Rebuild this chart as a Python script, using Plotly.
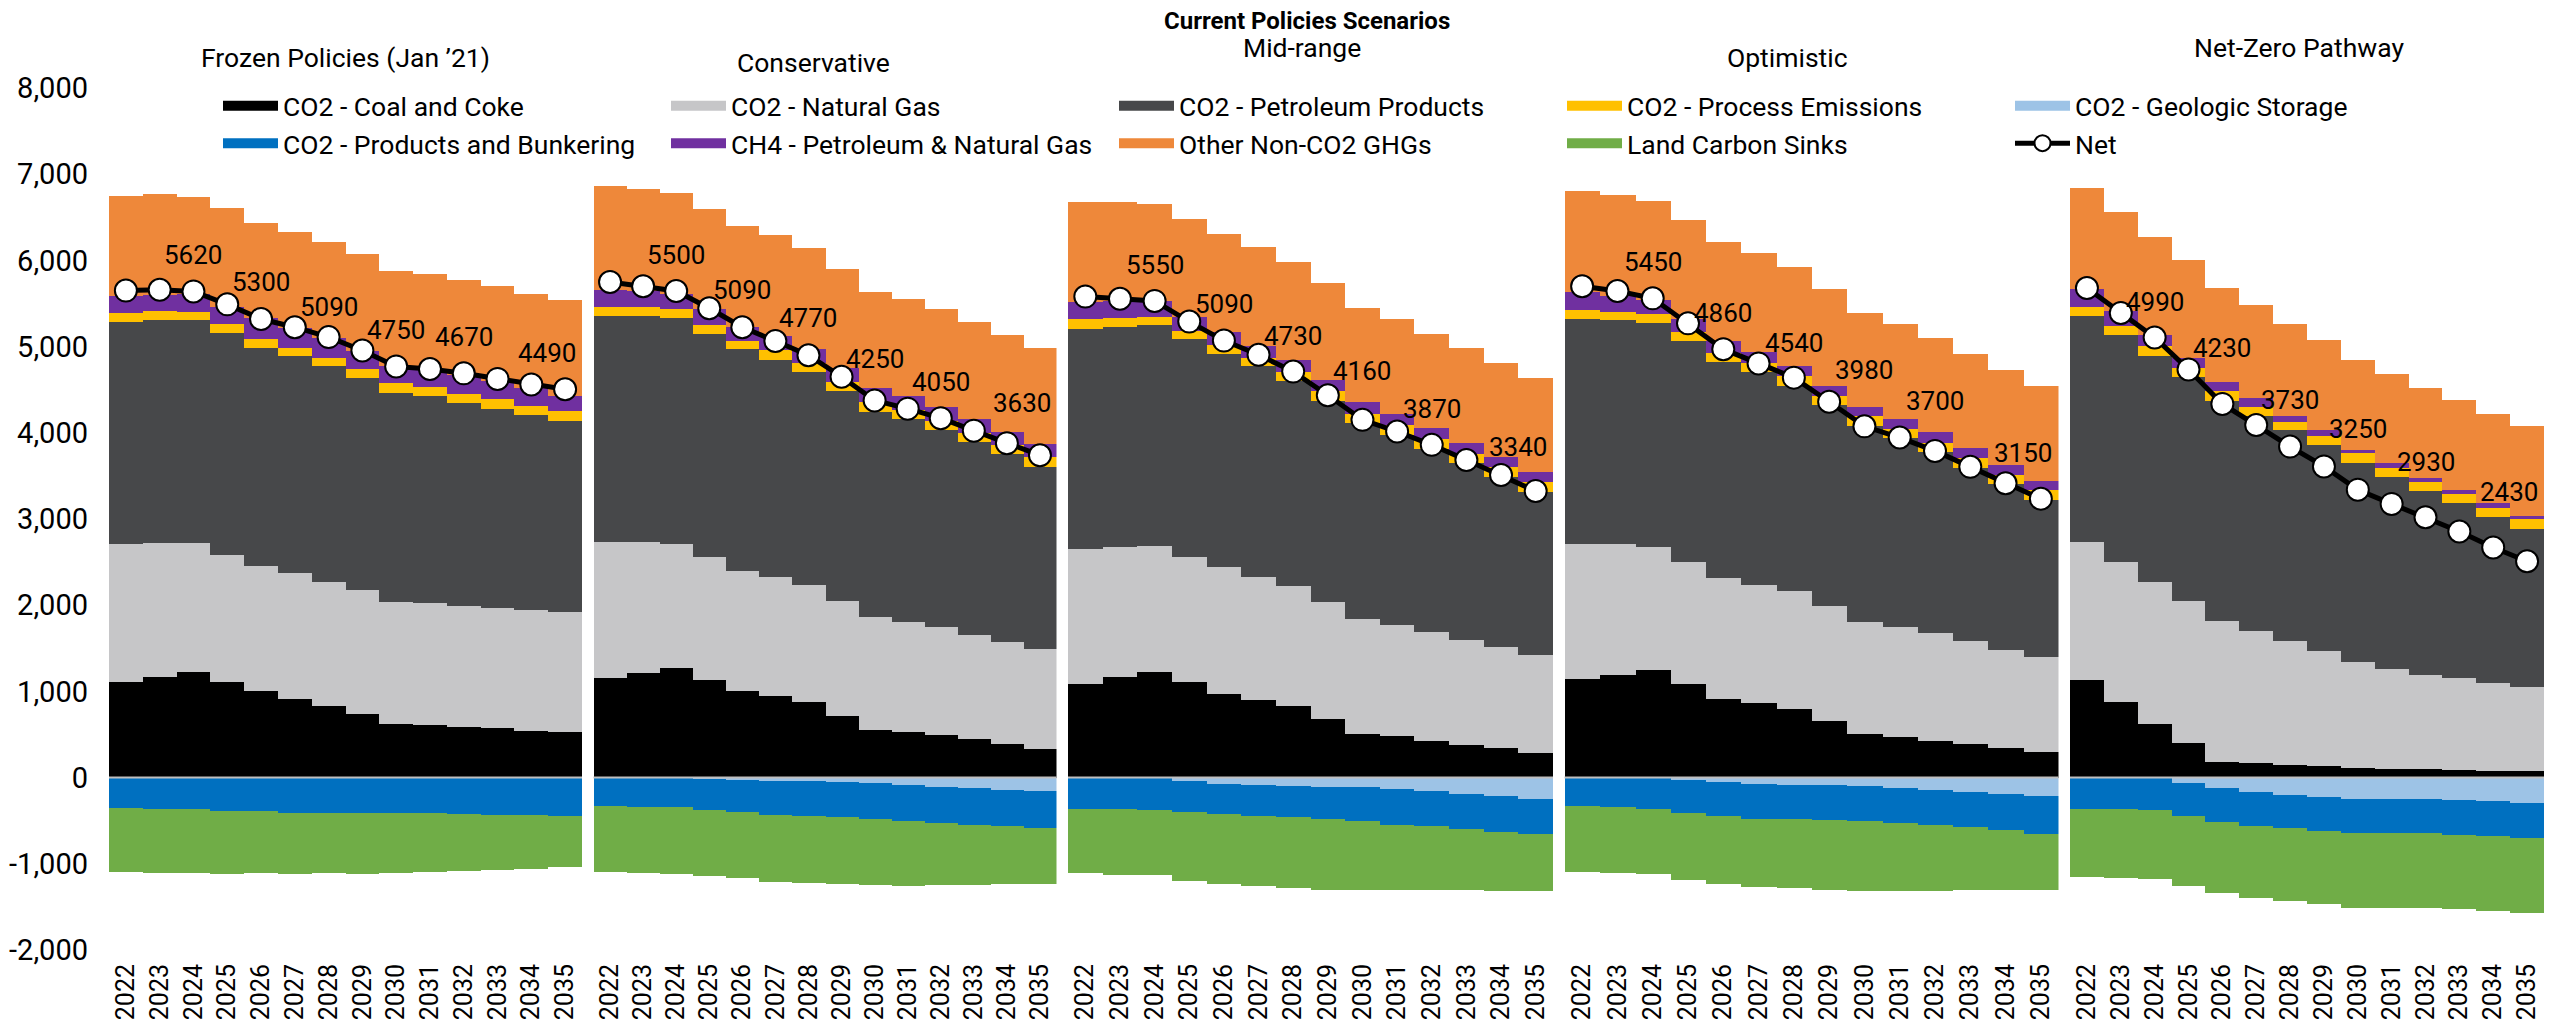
import plotly.graph_objects as go
from plotly.subplots import make_subplots

# Emissions by source, one row per scenario panel (MMT CO2e)
years = [str(y) for y in range(2022, 2036)]
scenarios = ["Frozen Policies (Jan ’21)", "Conservative", "Mid-range", "Optimistic", "Net-Zero Pathway"]
y_ticks = list(range(-2000, 8001, 1000))

coal_coke = [
    [1105, 1170, 1230, 1110, 1000, 915, 835, 735, 625, 615, 590, 570, 540, 525],
    [1150, 1210, 1270, 1135, 1005, 945, 875, 720, 555, 530, 500, 450, 390, 335],
    [1090, 1165, 1230, 1105, 975, 895, 830, 675, 510, 480, 430, 375, 340, 285],
    [1140, 1190, 1245, 1085, 915, 860, 800, 655, 505, 475, 430, 395, 340, 300],
    [1130, 875, 625, 405, 185, 165, 145, 135, 115, 105, 95, 90, 80, 75],
]
natural_gas = [
    [1600, 1550, 1490, 1475, 1450, 1460, 1440, 1440, 1415, 1405, 1395, 1400, 1405, 1400],
    [1585, 1520, 1440, 1425, 1390, 1385, 1355, 1325, 1305, 1270, 1245, 1210, 1180, 1160],
    [1560, 1510, 1455, 1455, 1465, 1435, 1390, 1360, 1335, 1290, 1260, 1225, 1180, 1135],
    [1575, 1515, 1430, 1415, 1405, 1380, 1360, 1335, 1305, 1275, 1245, 1190, 1140, 1100],
    [1600, 1630, 1645, 1640, 1635, 1535, 1435, 1335, 1225, 1160, 1100, 1065, 1015, 980],
]
petroleum = [
    [2580, 2585, 2590, 2570, 2535, 2515, 2495, 2455, 2425, 2405, 2360, 2310, 2260, 2210],
    [2625, 2625, 2620, 2590, 2575, 2520, 2475, 2445, 2385, 2355, 2285, 2230, 2180, 2105],
    [2560, 2555, 2560, 2525, 2480, 2440, 2380, 2335, 2270, 2210, 2120, 2050, 1970, 1895],
    [2610, 2600, 2600, 2560, 2505, 2465, 2385, 2330, 2270, 2190, 2100, 2010, 1925, 1825],
    [2625, 2625, 2625, 2600, 2550, 2500, 2450, 2385, 2310, 2220, 2130, 2030, 1925, 1825],
]
process = [
    [100, 105, 95, 110, 105, 95, 95, 115, 115, 110, 110, 115, 110, 115],
    [105, 105, 105, 105, 95, 105, 105, 100, 110, 105, 110, 110, 110, 120],
    [105, 100, 95, 95, 95, 95, 105, 110, 105, 105, 115, 105, 110, 110],
    [105, 95, 105, 105, 105, 110, 110, 110, 115, 105, 110, 110, 110, 110],
    [105, 105, 110, 110, 110, 105, 95, 110, 110, 110, 110, 110, 110, 115],
]
geologic = [
    [0, 0, 0, 0, 0, 0, 0, 0, 0, -5, -5, -5, -5, -5],
    [0, 0, -5, -15, -25, -35, -45, -55, -65, -90, -105, -120, -140, -160],
    [-5, -5, -10, -40, -70, -90, -100, -110, -110, -135, -155, -185, -215, -245],
    [0, 0, 0, -30, -55, -70, -80, -90, -100, -120, -140, -165, -195, -215],
    [0, 0, 0, -60, -125, -170, -205, -225, -245, -245, -245, -260, -275, -290],
]
bunkering = [
    [-350, -360, -370, -385, -390, -405, -410, -410, -410, -410, -415, -425, -430, -435],
    [-330, -340, -340, -365, -375, -395, -395, -405, -410, -415, -420, -425, -425, -425],
    [-355, -360, -370, -360, -350, -350, -360, -375, -395, -410, -410, -410, -415, -415],
    [-330, -340, -360, -385, -395, -405, -395, -400, -405, -405, -415, -410, -415, -435],
    [-360, -365, -375, -390, -395, -390, -385, -395, -400, -400, -400, -410, -400, -405],
]
ch4 = [
    [200, 185, 205, 200, 245, 230, 230, 205, 200, 190, 210, 205, 205, 180],
    [195, 185, 180, 180, 165, 165, 165, 160, 160, 165, 160, 165, 155, 145],
    [200, 200, 185, 160, 155, 145, 135, 135, 140, 135, 125, 125, 120, 125],
    [200, 190, 165, 155, 130, 125, 115, 115, 110, 115, 125, 115, 115, 110],
    [205, 175, 135, 115, 110, 95, 65, 65, 45, 50, 45, 45, 50, 45],
]
other_ghg = [
    [1160, 1170, 1130, 1140, 1095, 1120, 1120, 1120, 1095, 1115, 1105, 1100, 1090, 1115],
    [1205, 1185, 1165, 1165, 1170, 1170, 1165, 1150, 1120, 1130, 1135, 1125, 1125, 1115],
    [1165, 1150, 1130, 1135, 1135, 1150, 1140, 1120, 1085, 1095, 1100, 1100, 1085, 1080],
    [1180, 1170, 1145, 1150, 1155, 1150, 1150, 1120, 1090, 1105, 1095, 1100, 1100, 1100],
    [1170, 1150, 1135, 1130, 1090, 1085, 1070, 1050, 1035, 1040, 1045, 1045, 1040, 1040],
]
land_sinks = [
    [-750, -745, -735, -735, -720, -710, -700, -705, -695, -680, -660, -640, -620, -600],
    [-765, -770, -770, -765, -765, -780, -780, -780, -775, -755, -725, -700, -675, -645],
    [-745, -760, -755, -800, -815, -815, -815, -815, -795, -755, -735, -710, -685, -660],
    [-760, -770, -760, -775, -790, -795, -805, -810, -805, -785, -755, -730, -695, -655],
    [-790, -800, -805, -805, -820, -835, -840, -850, -865, -865, -865, -860, -875, -870],
]
net = [
    [5650, 5660, 5640, 5490, 5320, 5225, 5110, 4955, 4770, 4740, 4690, 4625, 4560, 4505],
    [5750, 5700, 5645, 5445, 5225, 5065, 4900, 4650, 4375, 4280, 4170, 4025, 3880, 3740],
    [5580, 5555, 5530, 5290, 5070, 4905, 4710, 4435, 4150, 4015, 3860, 3685, 3510, 3325],
    [5700, 5645, 5560, 5270, 4970, 4805, 4640, 4360, 4075, 3945, 3790, 3605, 3415, 3235],
    [5680, 5390, 5105, 4735, 4335, 4090, 3840, 3610, 3340, 3175, 3020, 2855, 2670, 2510],
]
label_years = ["2024", "2026", "2028", "2030", "2032", "2035"]
net_labels = [
    [5620, 5300, 5090, 4750, 4670, 4490],
    [5500, 5090, 4770, 4250, 4050, 3630],
    [5550, 5090, 4730, 4160, 3870, 3340],
    [5450, 4860, 4540, 3980, 3700, 3150],
    [4990, 4230, 3730, 3250, 2930, 2430],
]

# layout bits (pixels)
label_lift = [
    [36, 37, 30, 36, 36, 36],
    [36, 37, 37, 41, 36, 52],
    [36, 37, 36, 49, 36, 44],
    [36, 36, 35, 56, 50, 46],
    [36, 56, 47, 61, 55, 69],
]
title_pos = [(345, 57), (813, 62), (1302, 48), (1787, 57), (2299, 48)]

series = [
    ("CO2 - Coal and Coke", coal_coke, "#000000"),
    ("CO2 - Natural Gas", natural_gas, "#C6C6C8"),
    ("CO2 - Petroleum Products", petroleum, "#47484A"),
    ("CO2 - Process Emissions", process, "#FFC000"),
    ("CO2 - Geologic Storage", geologic, "#9DC3E6"),
    ("CO2 - Products and Bunkering", bunkering, "#0070C0"),
    ("CH4 - Petroleum & Natural Gas", ch4, "#7030A0"),
    ("Other Non-CO2 GHGs", other_ghg, "#EE883A"),
    ("Land Carbon Sinks", land_sinks, "#70AD47"),
]

# the page body adds an 8px margin, so the figure is 16px smaller than the window
W, H = 2536, 1014
L, R, T, B = 101, 0, 80, 72
pw, ph = W - L - R, H - T - B


def px_x(sx):
    return (sx - 8 - L) / pw


def px_y(sy):
    return (H - B - (sy - 8)) / ph


fig = make_subplots(rows=1, cols=5, shared_yaxes=True,
                    column_widths=[473, 463, 485, 494, 474],
                    horizontal_spacing=11.5 / pw)

# legend swatches: wide bars instead of the small default squares
for name, vals, color in series:
    fig.add_trace(go.Scatter(x=[None], y=[None], mode="lines", name=name,
                             line=dict(color=color, width=13), legendgroup=name,
                             hoverinfo="skip"), row=1, col=1)

for i in range(5):
    for name, vals, color in series:
        fig.add_trace(go.Bar(x=years, y=vals[i], name=name, marker_color=color,
                             marker_line_width=0, legendgroup=name, showlegend=False),
                      row=1, col=i + 1)
    fig.add_trace(go.Scatter(x=years, y=net[i], name="Net", mode="lines+markers",
                             line=dict(color="black", width=5),
                             marker=dict(size=22, color="white", line=dict(color="black", width=2)),
                             legendgroup="Net", showlegend=i == 0),
                  row=1, col=i + 1)

    ax = "" if i == 0 else str(i + 1)
    fig.add_shape(type="line", xref="x%s domain" % ax, yref="y%s" % ax,
                  x0=0, x1=1, y0=0, y1=0, line=dict(color="#BFBFBF", width=2))

    # category axes take annotation x as the category index
    for j, yr in enumerate(label_years):
        k = years.index(yr)
        fig.add_annotation(x=k, y=net[i][k], xref="x" + ax, yref="y" + ax,
                           text=str(net_labels[i][j]), showarrow=False,
                           xanchor="center", yanchor="middle",
                           yshift=label_lift[i][j], xshift=-18 if yr == "2035" else 0,
                           font=dict(size=26, color="black"))

    sx, sy = title_pos[i]
    fig.add_annotation(x=px_x(sx), y=px_y(sy), xref="paper", yref="paper",
                       xanchor="center", yanchor="middle",
                       text=scenarios[i], showarrow=False, font=dict(size=26.5, color="black"))

fig.add_annotation(x=px_x(1307), y=px_y(21), xref="paper", yref="paper",
                   xanchor="center", yanchor="middle", borderpad=0,
                   text="<b>Current Policies Scenarios</b>", showarrow=False,
                   font=dict(size=24, color="black"))

fig.update_yaxes(range=[-2000, 8000], tickmode="array", tickvals=y_ticks,
                 ticktext=[f"{v:,}" for v in y_ticks], showgrid=False, automargin=False,
                 zeroline=False, showline=False, ticks="", ticklabelstandoff=20,
                 tickfont=dict(size=29, color="black"))
fig.update_xaxes(type="category", range=[-0.5, len(years) - 0.5], tickmode="linear",
                 tick0=0, dtick=1, tickangle=-90, showgrid=False, showline=False,
                 automargin=False, ticks="", ticklabelstandoff=8,
                 tickfont=dict(size=25, color="black"))

fig.update_layout(
    width=W, height=H, barmode="relative", bargap=0,
    margin=dict(l=L, r=R, t=T, b=B, autoexpand=False),
    paper_bgcolor="white", plot_bgcolor="white",
    font=dict(family="Roboto", color="black"),
    legend=dict(orientation="h", x=px_x(218), y=px_y(82), xanchor="left", yanchor="top",
                itemwidth=55, entrywidth=378, entrywidthmode="pixels", traceorder="normal",
                font=dict(size=26.5), bgcolor="rgba(0,0,0,0)"),
)

fig.write_html("out.html")
